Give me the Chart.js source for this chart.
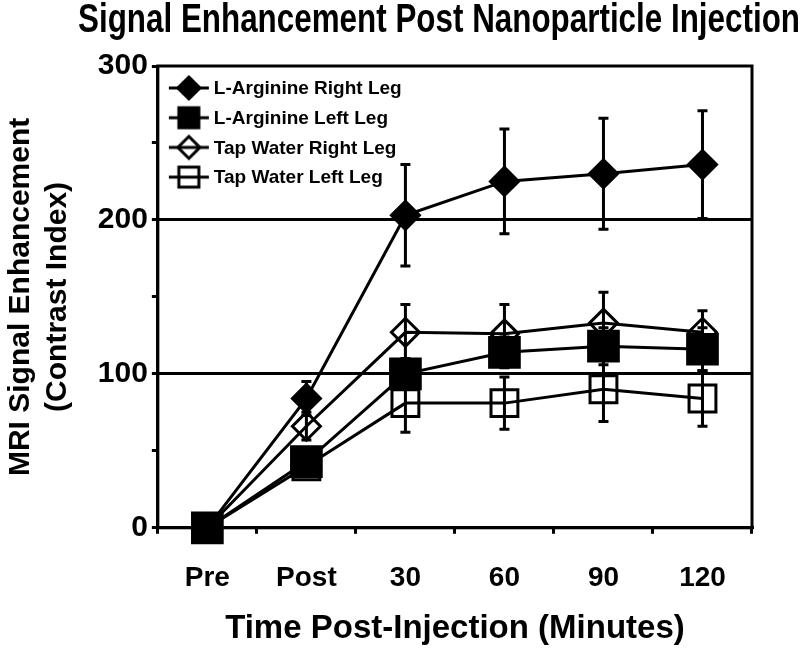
<!DOCTYPE html>
<html>
<head>
<meta charset="utf-8">
<script src="https://cdn.jsdelivr.net/npm/chart.js@4.4.0/dist/chart.umd.min.js"></script>
<style>
  html, body { margin: 0; padding: 0; background: #fff; }
  #wrap { width: 800px; height: 650px; }
</style>
</head>
<body>
<div id="wrap"><canvas id="graph" width="800" height="650"></canvas></div>
<script>
// values
const timeLabels = ['Pre', 'Post', '30', '60', '90', '120'];
const seriesNames = ['L-Arginine Right Leg', 'L-Arginine Left Leg', 'Tap Water Right Leg', 'Tap Water Left Leg'];

const argRight = [0, 84, 203, 225, 230, 236];
const argRightErr = [0, 11, 33, 34, 36, 35];
const argLeft = [0, 43, 100, 114, 118, 116];
const argLeftErr = [0, 6, 10, 10, 12, 14];
const tapRight = [0, 66, 127, 126, 133, 127];
const tapRightErr = [0, 9, 18, 19, 20, 14];
const tapLeft = [0, 40, 81, 81, 90, 84];
const tapLeftErr = [0, 6, 19, 17, 21, 18];

const yTicks = [0, 100, 200, 300];

const FONT = "'Liberation Sans', Arial, sans-serif";

// little icons for the legend: a line with the marker on it
function legendIcon(style, filled, radius) {
    const c = document.createElement('canvas');
    c.width = 44; c.height = 30;
    const g = c.getContext('2d');
    g.strokeStyle = '#000';
    g.lineWidth = 3;
    g.beginPath();
    g.moveTo(2, 15); g.lineTo(42, 15);
    g.stroke();
    g.fillStyle = filled ? '#000' : '#fff';
    g.beginPath();
    if (style === 'rectRot') {
        g.moveTo(22, 15 - radius); g.lineTo(22 + radius, 15);
        g.lineTo(22, 15 + radius); g.lineTo(22 - radius, 15);
        g.closePath();
    } else {
        g.rect(22 - radius, 15 - radius, radius * 2, radius * 2);
    }
    g.fill();
    g.stroke();
    if (!filled) {
        g.beginPath();
        g.moveTo(22 - radius, 15); g.lineTo(22 + radius, 15);
        g.stroke();
    }
    return c;
}

function makeSet(i, data, errs, style, filled, radius) {
    return {
        label: seriesNames[i],
        data: data,
        errs: errs,
        borderColor: '#000',
        borderWidth: 3,
        pointStyle: style,
        pointRadius: radius,
        pointHoverRadius: radius,
        pointBorderWidth: 3,
        pointBackgroundColor: filled ? '#000' : 'rgba(0,0,0,0)',
        pointBorderColor: '#000',
        tension: 0,
        clip: false,
        icon: legendIcon(style, filled, style === 'rectRot' ? 11 : 10)
    };
}

// error bars, drawn through the chart's own scales
const errorBars = {
    id: 'errorBars',
    afterDatasetsDraw(chart) {
        const ctx = chart.ctx;
        const y = chart.scales.y;
        ctx.save();
        ctx.strokeStyle = '#000';
        ctx.lineWidth = 3;
        chart.data.datasets.forEach((ds, i) => {
            const meta = chart.getDatasetMeta(i);
            meta.data.forEach((pt, j) => {
                const e = ds.errs[j];
                if (!e) return;
                const top = y.getPixelForValue(ds.data[j] + e);
                const bot = y.getPixelForValue(ds.data[j] - e);
                ctx.beginPath();
                ctx.moveTo(pt.x, top); ctx.lineTo(pt.x, bot);
                ctx.moveTo(pt.x - 5, top); ctx.lineTo(pt.x + 5, top);
                ctx.moveTo(pt.x - 5, bot); ctx.lineTo(pt.x + 5, bot);
                ctx.stroke();
            });
        });
        ctx.restore();
    }
};

// box around the plot area
const frame = {
    id: 'frame',
    beforeDatasetsDraw(chart) {
        const a = chart.chartArea;
        const ctx = chart.ctx;
        ctx.save();
        ctx.strokeStyle = '#000';
        ctx.lineWidth = 3;
        ctx.strokeRect(a.left, a.top, a.right - a.left, a.bottom - a.top);
        ctx.restore();
    }
};

// the title in the original sits a bit left of the plot's centre
const titleShift = {
    id: 'titleShift',
    afterLayout(chart) {
        const t = chart.titleBlock;
        if (!t) return;
        t.left = 78;
        t.right = 800;
        t.width = t.right - t.left;
    }
};

// legend inside the top-left corner of the plot
const cornerLegend = {
    id: 'cornerLegend',
    afterDraw(chart) {
        const a = chart.chartArea;
        const ctx = chart.ctx;
        ctx.save();
        ctx.fillStyle = '#000';
        ctx.font = 'bold 19px ' + FONT;
        ctx.textBaseline = 'middle';
        chart.data.datasets.forEach((ds, i) => {
            const cy = a.top + 22 + i * 29.7;
            ctx.drawImage(ds.icon, a.left + 9, cy - 15);
            ctx.fillText(ds.label, a.left + 56, cy + 1);
        });
        ctx.restore();
    }
};

const ct1 = document.getElementById('graph').getContext('2d');
const myChart = new Chart(ct1, {
    type: 'line',
    data: {
        labels: timeLabels,
        datasets: [
            makeSet(0, argRight, argRightErr, 'rectRot', true, 14),
            makeSet(1, argLeft, argLeftErr, 'rect', true, 21),
            makeSet(2, tapRight, tapRightErr, 'rectRot', false, 14),
            makeSet(3, tapLeft, tapLeftErr, 'rect', false, 19)
        ]
    },
    plugins: [frame, errorBars, cornerLegend, titleShift],
    options: {
        responsive: false,
        animation: false,
        layout: { padding: { left: 2, right: 48, top: 0, bottom: 1 } },
        plugins: {
            tooltip: { enabled: false },
            legend: { display: false },
            title: {
                display: true,
                fullSize: false,
                text: 'Signal Enhancement Post Nanoparticle Injection',
                color: '#000',
                font: { family: "'Liberation Sans Narrow', " + FONT, size: 40, weight: 'bold', lineHeight: 1 },
                padding: { top: 1, bottom: 25 }
            }
        },
        scales: {
            x: {
                offset: true,
                grid: {
                    offset: true,
                    drawOnChartArea: false,
                    color: '#000',
                    lineWidth: 3,
                    tickLength: 6
                },
                border: { color: '#000', width: 3 },
                ticks: {
                    color: '#000',
                    padding: 28,
                    font: { family: FONT, size: 28, weight: 'bold' }
                },
                title: {
                    display: true,
                    text: 'Time Post-Injection (Minutes)',
                    color: '#000',
                    font: { family: FONT, size: 33, weight: 'bold' },
                    padding: { top: -14, bottom: 0 }
                }
            },
            y: {
                min: 0,
                max: 300,
                grid: {
                    color: (c) => (c.tick && (c.tick.value === 100 || c.tick.value === 200)) ? '#000' : 'rgba(0,0,0,0)',
                    tickColor: '#000',
                    lineWidth: 3,
                    tickLength: 6
                },
                border: { color: '#000', width: 3 },
                ticks: {
                    stepSize: 50,
                    color: '#000',
                    padding: 4,
                    font: { family: FONT, size: 30, weight: 'bold' },
                    callback: (v) => yTicks.includes(v) ? v : ''
                },
                title: {
                    display: true,
                    text: ['MRI Signal Enhancement', '(Contrast Index)'],
                    color: '#000',
                    font: { family: FONT, size: 30, weight: 'bold', lineHeight: 1.23 },
                    padding: { top: 0, bottom: 18 }
                }
            }
        }
    }
});
</script>
</body>
</html>
